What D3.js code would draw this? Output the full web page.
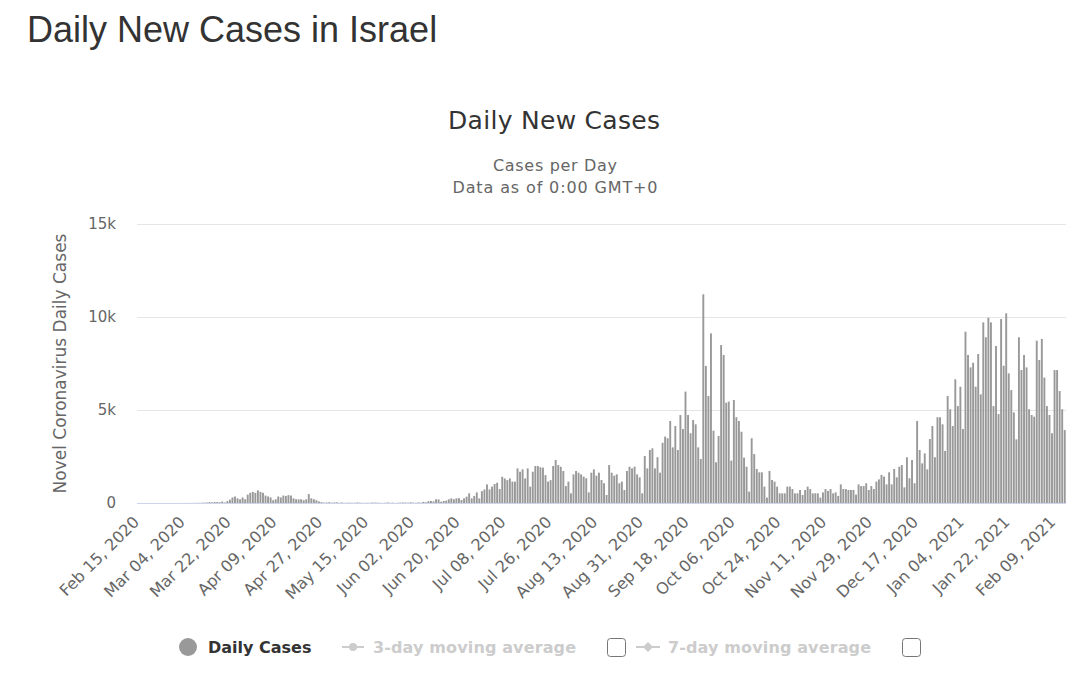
<!DOCTYPE html>
<html>
<head>
<meta charset="utf-8">
<script src="https://cdn.jsdelivr.net/npm/d3@7"></script>
<style>
  body { margin: 0; background: #fff; }
  svg { display: block; }
  .page-title { font-family: "Liberation Sans", Arial, sans-serif; font-size: 36px; fill: #333; }
  .chart-title { font-family: "DejaVu Sans", sans-serif; font-size: 25px; fill: #333; }
  .subtitle { font-family: "DejaVu Sans", sans-serif; font-size: 16px; fill: #666; }
  .axis-text { font-family: "DejaVu Sans", sans-serif; font-size: 15px; fill: #666; }
  .legend-text { font-family: "DejaVu Sans", sans-serif; font-size: 16px; font-weight: bold; }
</style>
</head>
<body>
<svg width="1088" height="688"></svg>
<script>
// daily new cases, one array per month (Feb 15, 2020 .. Feb 13, 2021)
const feb2020 = [0,0,0,0,0,0,1,0,0,0,0,0,0,1,0]
const mar2020 = [2,2,3,2,3,4,6,6,12,8,16,22,27,50,35,55,50,40,80,30,100,180,300,350,250,200,300,200,450,550,600]
const apr2020 = [550,680,600,550,400,350,300,150,200,350,300,400,380,420,400,250,200,200,200,150,200,480,250,200,150,80,50,20,30,40]
const may2020 = [20,30,40,15,30,10,18,20,13,12,30,20,10,6,15,10,30,20,20,8,5,15,30,10,18,5,15,20,30,25,15]
const jun2020 = [40,20,15,30,20,60,40,100,110,90,200,190,70,110,130,200,250,200,250,260,160,250,340,520,250,380,570,250,640,730]
const jul2020 = [1000,730,880,1020,1090,750,1410,1320,1230,1320,1150,1150,1860,1680,1810,1320,1860,880,1680,1990,1990,1920,1900,1500,1150,1230,1990,2310,2040,1950,1720]
const aug2020 = [910,1150,520,1540,1720,1630,1540,1420,1330,570,1630,1810,1470,1630,1240,1060,430,2040,1630,1470,1540,1060,1150,700,1720,1950,1860,1950,1540,1380,520]
const sep2020 = [2530,1860,2850,2940,1860,2460,1630,3240,3570,3480,4410,2990,4140,2850,4730,3980,5990,4730,3750,4460,4230,2990,2370,11220,7370,5750,9120,3890,2190,3600]
const oct2020 = [8490,7960,5390,5450,2280,5540,4610,4410,3830,2440,1950,610,3480,2630,1830,1650,1650,880,290,1720,1240,1150,880,520,520,520,880,880,750,520,520]
const nov2020 = [700,430,700,880,750,520,520,520,290,570,750,650,750,520,570,380,1000,750,750,700,700,700,450,1000,910,910,1060,700,910,750]
const dec2020 = [1150,1270,1510,1420,1000,1650,1000,1830,1380,1950,2040,840,2460,1330,2310,1060,4410,2850,2130,2670,1810,3440,4140,2460,4610,4610,4230,2800,5750,5040,4140]
const jan2021 = [6650,5210,6250,3980,9210,7960,7290,7540,6250,8010,5840,9710,8910,9960,9710,5210,8440,4780,9890,7380,10200,6970,6070,4870,3420,8910,7150,7960,7290,5040,4730]
const feb2021 = [4640,8730,7690,8820,6740,5210,4730,3750,7150,7150,6020,5040,3920]

const yTicks = [0, 5000, 10000, 15000]
const yTickLabels = ["0", "5k", "10k", "15k"]
const xTickLabels = ["Feb 15, 2020","Mar 04, 2020","Mar 22, 2020","Apr 09, 2020","Apr 27, 2020","May 15, 2020",
    "Jun 02, 2020","Jun 20, 2020","Jul 08, 2020","Jul 26, 2020","Aug 13, 2020","Aug 31, 2020","Sep 18, 2020",
    "Oct 06, 2020","Oct 24, 2020","Nov 11, 2020","Nov 29, 2020","Dec 17, 2020","Jan 04, 2021","Jan 22, 2021","Feb 09, 2021"]

const cases = [].concat(feb2020, mar2020, apr2020, may2020, jun2020, jul2020, aug2020,
    sep2020, oct2020, nov2020, dec2020, jan2021, feb2021)

const fmt = d3.timeFormat("%b %d, %Y")
const start = new Date(2020, 1, 15)
const data = cases.map((v, i) => {
    return { date: fmt(d3.timeDay.offset(start, i)), value: v }
})

const svg = d3.select("svg")

const plotLeft = 137, plotRight = 1066, plotTop = 224, plotBottom = 503

const x = d3.scaleBand()
    .domain(data.map(d => d.date))
    .range([plotLeft, plotRight])
    .paddingInner(0.25)
    .paddingOuter(0.12)

const y = d3.scaleLinear()
    .domain([0, 15000])
    .range([plotBottom, plotTop])

// titles
svg.append("text")
    .attr("class", "page-title")
    .attr("x", 27)
    .attr("y", 42)
    .text("Daily New Cases in Israel")

svg.append("text")
    .attr("class", "chart-title")
    .attr("x", 554)
    .attr("y", 129)
    .attr("text-anchor", "middle")
    .attr("textLength", 212)
    .text("Daily New Cases")

svg.append("text")
    .attr("class", "subtitle")
    .attr("x", 555)
    .attr("y", 171)
    .attr("text-anchor", "middle")
    .attr("textLength", 124)
    .text("Cases per Day")

svg.append("text")
    .attr("class", "subtitle")
    .attr("x", 555)
    .attr("y", 193)
    .attr("text-anchor", "middle")
    .attr("textLength", 205)
    .text("Data as of 0:00 GMT+0")

// grid
svg.selectAll("line.grid")
    .data(yTicks.slice(1))
    .enter()
    .append("line")
    .attr("class", "grid")
    .attr("x1", plotLeft)
    .attr("x2", plotRight)
    .attr("y1", d => y(d) + 0.5)
    .attr("y2", d => y(d) + 0.5)
    .attr("stroke", "#e6e6e6")

svg.selectAll("text.ytick")
    .data(yTicks)
    .enter()
    .append("text")
    .attr("class", "ytick axis-text")
    .attr("x", 116)
    .attr("y", d => y(d) + 5)
    .attr("text-anchor", "end")
    .text((d, i) => yTickLabels[i])

svg.append("text")
    .attr("class", "axis-text")
    .attr("transform", `translate(66, ${(plotTop + plotBottom) / 2}) rotate(-90)`)
    .attr("text-anchor", "middle")
    .style("font-size", "17px")
    .text("Novel Coronavirus Daily Cases")

// bars
svg.selectAll("rect.bar")
    .data(data)
    .enter()
    .append("rect")
    .attr("class", "bar")
    .attr("x", d => x(d.date))
    .attr("width", x.bandwidth())
    .attr("y", d => y(d.value))
    .attr("height", d => plotBottom - y(d.value))
    .attr("fill", "#999")

svg.append("line")
    .attr("x1", plotLeft)
    .attr("x2", plotRight)
    .attr("y1", plotBottom + 0.5)
    .attr("y2", plotBottom + 0.5)
    .attr("stroke", "#ccd6eb")

// x labels
svg.selectAll("text.xtick")
    .data(xTickLabels)
    .enter()
    .append("text")
    .attr("class", "xtick axis-text")
    .attr("text-anchor", "end")
    .style("font-size", "16px")
    .attr("transform", d => `translate(${x(d) + x.bandwidth() / 2 + 2}, 523) rotate(-45)`)
    .text(d => d)

// legend
const legend = svg.append("g").attr("transform", "translate(0, 647)")

legend.append("circle")
    .attr("cx", 188).attr("cy", 0).attr("r", 9)
    .attr("fill", "#999")

legend.append("text")
    .attr("class", "legend-text")
    .attr("x", 208).attr("y", 6)
    .attr("fill", "#333")
    .text("Daily Cases")

legend.append("line")
    .attr("x1", 342).attr("x2", 364).attr("y1", 0).attr("y2", 0)
    .attr("stroke", "#ccc").attr("stroke-width", 2)
legend.append("circle")
    .attr("cx", 353).attr("cy", 0).attr("r", 4)
    .attr("fill", "#ccc")
legend.append("text")
    .attr("class", "legend-text")
    .attr("x", 373).attr("y", 6)
    .attr("fill", "#ccc")
    .attr("textLength", 203)
    .text("3-day moving average")

legend.append("rect")
    .attr("x", 607.5).attr("y", -8.5).attr("width", 18).attr("height", 18).attr("rx", 3)
    .attr("fill", "#fff").attr("stroke", "#767676")

legend.append("line")
    .attr("x1", 636).attr("x2", 660).attr("y1", 0).attr("y2", 0)
    .attr("stroke", "#ccc").attr("stroke-width", 2)
legend.append("path")
    .attr("d", "M648,-5 L653,0 L648,5 L643,0 Z")
    .attr("fill", "#ccc")
legend.append("text")
    .attr("class", "legend-text")
    .attr("x", 668).attr("y", 6)
    .attr("fill", "#ccc")
    .attr("textLength", 203)
    .text("7-day moving average")

legend.append("rect")
    .attr("x", 902.5).attr("y", -8.5).attr("width", 18).attr("height", 18).attr("rx", 3)
    .attr("fill", "#fff").attr("stroke", "#767676")
</script>
</body>
</html>
